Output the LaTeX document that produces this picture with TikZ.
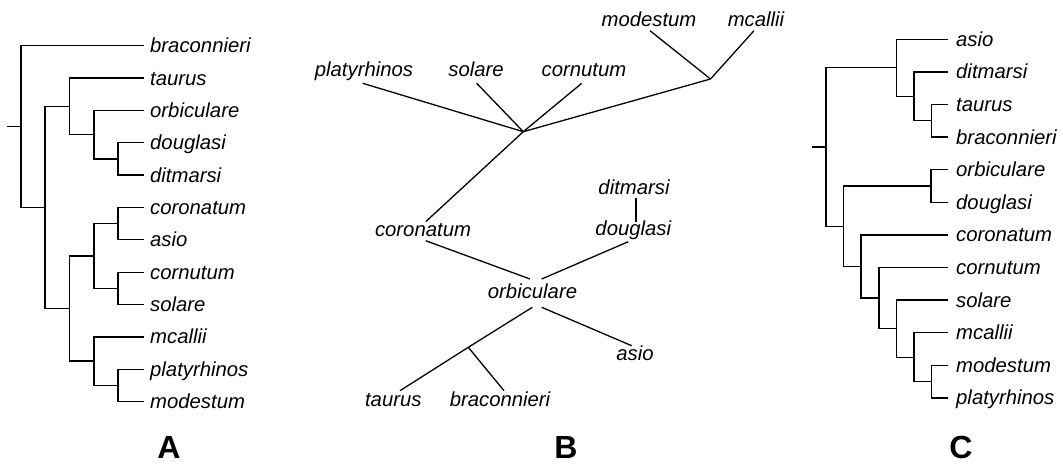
\documentclass[tikz,border=0pt]{standalone}
\usepackage{fontspec}
\setmainfont{Liberation Sans}
\begin{document}
\begin{tikzpicture}[x=1pt,y=-1pt,
  br/.style={line width=1.3pt,line cap=rect},
  tipA/.style={anchor=west,inner xsep=7pt,inner ysep=0pt,text height=14pt,text depth=0pt,font=\itshape\fontsize{20.3}{24}\selectfont},
  tipC/.style={tipA,inner xsep=9pt},
  lblB/.style={anchor=base,inner sep=0pt,font=\itshape\fontsize{20.3}{24}\selectfont},
  panel/.style={anchor=base,inner sep=0pt,font=\bfseries\fontsize{32}{36}\selectfont}]
\useasboundingbox (0,0) rectangle (1063,465);

% ---------------- Panel A ----------------
\node[tipA] (a-brac)  at (143,45.7)  {braconnieri};
\node[tipA] (a-taur)  at (143,78.05) {taurus};
\node[tipA] (a-orbi)  at (143,110.4) {orbiculare};
\node[tipA] (a-doug)  at (143,142.75){douglasi};
\node[tipA] (a-ditm)  at (143,175.1) {ditmarsi};
\node[tipA] (a-coro)  at (143,207.45){coronatum};
\node[tipA] (a-asio)  at (143,239.8) {asio};
\node[tipA] (a-corn)  at (143,272.15){cornutum};
\node[tipA] (a-sola)  at (143,304.5) {solare};
\node[tipA] (a-mcal)  at (143,336.85){mcallii};
\node[tipA] (a-plat)  at (143,369.2) {platyrhinos};
\node[tipA] (a-mode)  at (143,401.55){modestum};
\coordinate (aN5) at (118,158.9);
\coordinate (aN4) at (94,134.65);
\coordinate (aN2) at (69.5,106.35);
\coordinate (aN8) at (118,223.6);
\coordinate (aN9) at (118,288.3);
\coordinate (aN6) at (94,256);
\coordinate (aN10) at (118,385.4);
\coordinate (aN7) at (94,361.1);
\coordinate (aN3) at (69.5,308.6);
\coordinate (aN1) at (45,207.5);
\coordinate (aR) at (21,126.6);
\coordinate (aS) at (8,126.6);
\draw[br] (aS) -- (aR);
\draw[br] (aR) |- (a-brac.west);
\draw[br] (aR) |- (aN1);
\draw[br] (aN1) |- (aN2);
\draw[br] (aN1) |- (aN3);
\draw[br] (aN2) |- (a-taur.west);
\draw[br] (aN2) |- (aN4);
\draw[br] (aN4) |- (a-orbi.west);
\draw[br] (aN4) |- (aN5);
\draw[br] (aN5) |- (a-doug.west);
\draw[br] (aN5) |- (a-ditm.west);
\draw[br] (aN3) |- (aN6);
\draw[br] (aN3) |- (aN7);
\draw[br] (aN6) |- (aN8);
\draw[br] (aN6) |- (aN9);
\draw[br] (aN8) |- (a-coro.west);
\draw[br] (aN8) |- (a-asio.west);
\draw[br] (aN9) |- (a-corn.west);
\draw[br] (aN9) |- (a-sola.west);
\draw[br] (aN7) |- (a-mcal.west);
\draw[br] (aN7) |- (aN10);
\draw[br] (aN10) |- (a-plat.west);
\draw[br] (aN10) |- (a-mode.west);

% ---------------- Panel B ----------------
\node[lblB] (b-plat) at (364,77)   {platyrhinos};
\node[lblB] (b-sola) at (476,77)   {solare};
\node[lblB] (b-corn) at (584,77)   {cornutum};
\node[lblB] (b-mode) at (649,26.7) {modestum};
\node[lblB] (b-mcal) at (756,26.7) {mcallii};
\node[lblB] (b-ditm) at (634,194.5){ditmarsi};
\node[lblB] (b-doug) at (633.3,235.5){douglasi};
\node[lblB] (b-coro) at (423,236.7){coronatum};
\node[lblB] (b-orbi) at (532.5,298.3){orbiculare};
\node[lblB] (b-asio) at (635,360)  {asio};
\node[lblB] (b-taur) at (393.3,406){taurus};
\node[lblB] (b-brac) at (500,406)  {braconnieri};
\coordinate (bC) at (523.3,131.7);
\coordinate (bM) at (710.5,79);
\coordinate (bJ) at (468.3,347.3);
\coordinate (e-plat) at (362.7,83.3);
\coordinate (e-sola) at (476.7,83.3);
\coordinate (e-corn) at (581.7,83.3);
\coordinate (e-mode) at (650,30.7);
\coordinate (e-mcal) at (754,30.7);
\coordinate (e-corT) at (425.7,221.7);
\coordinate (e-corB) at (425.7,240.7);
\coordinate (e-orbL) at (530,279);
\coordinate (e-orbR) at (541.7,279);
\coordinate (e-dogB) at (628.3,241.7);
\coordinate (e-dogT) at (636,221.7);
\coordinate (e-ditB) at (636,198.3);
\coordinate (e-orbBL) at (532.3,307.3);
\coordinate (e-orbBR) at (541.7,307.3);
\coordinate (e-asio) at (631.7,345.7);
\coordinate (e-taur) at (400,390.7);
\coordinate (e-brac) at (504,390.7);
\draw[br,line cap=butt] (e-plat) -- (bC);
\draw[br,line cap=butt] (e-sola) -- (bC);
\draw[br,line cap=butt] (e-corn) -- (bC);
\draw[br,line cap=butt] (bC) -- (bM);
\draw[br,line cap=butt] (e-mode) -- (bM);
\draw[br,line cap=butt] (e-mcal) -- (bM);
\draw[br,line cap=butt] (bC) -- (e-corT);
\draw[br,line cap=butt] (e-corB) -- (e-orbL);
\draw[br,line cap=butt] (e-dogB) -- (e-orbR);
\draw[br,line cap=butt] (e-ditB) -- (e-dogT);
\draw[br,line cap=butt] (e-orbBL) -- (bJ);
\draw[br,line cap=butt] (bJ) -- (e-taur);
\draw[br,line cap=butt] (bJ) -- (e-brac);
\draw[br,line cap=butt] (e-orbBR) -- (e-asio);

% ---------------- Panel C ----------------
\node[tipC] (c-asio) at (947,39.3)  {asio};
\node[tipC] (c-ditm) at (947,71.9)  {ditmarsi};
\node[tipC] (c-taur) at (947,104.5) {taurus};
\node[tipC] (c-brac) at (947,137.1) {braconnieri};
\node[tipC] (c-orbi) at (947,169.7) {orbiculare};
\node[tipC] (c-doug) at (947,202.3) {douglasi};
\node[tipC] (c-coro) at (947,234.9) {coronatum};
\node[tipC] (c-corn) at (947,267.5) {cornutum};
\node[tipC] (c-sola) at (947,300.1) {solare};
\node[tipC] (c-mcal) at (947,332.7) {mcallii};
\node[tipC] (c-mode) at (947,365.3) {modestum};
\node[tipC] (c-plat) at (947,397.9) {platyrhinos};
\coordinate (cA3) at (931.5,120.8);
\coordinate (cA2) at (914,96.35);
\coordinate (cA)  at (896.5,67.8);
\coordinate (cB1) at (931,186);
\coordinate (cB6) at (931.5,381.6);
\coordinate (cB5) at (914,357.15);
\coordinate (cB4) at (896.5,328.6);
\coordinate (cB3) at (879,298.05);
\coordinate (cB2) at (861,266.5);
\coordinate (cB)  at (843.5,226.25);
\coordinate (cR)  at (826,147);
\coordinate (cS)  at (813,147);
\draw[br] (cS) -- (cR);
\draw[br] (cR) |- (cA);
\draw[br] (cR) |- (cB);
\draw[br] (cA) |- (c-asio.west);
\draw[br] (cA) |- (cA2);
\draw[br] (cA2) |- (c-ditm.west);
\draw[br] (cA2) |- (cA3);
\draw[br] (cA3) |- (c-taur.west);
\draw[br] (cA3) |- (c-brac.west);
\draw[br] (cB) |- (cB1);
\draw[br] (cB) |- (cB2);
\draw[br] (cB1) |- (c-orbi.west);
\draw[br] (cB1) |- (c-doug.west);
\draw[br] (cB2) |- (c-coro.west);
\draw[br] (cB2) |- (cB3);
\draw[br] (cB3) |- (c-corn.west);
\draw[br] (cB3) |- (cB4);
\draw[br] (cB4) |- (c-sola.west);
\draw[br] (cB4) |- (cB5);
\draw[br] (cB5) |- (c-mcal.west);
\draw[br] (cB5) |- (cB6);
\draw[br] (cB6) |- (c-mode.west);
\draw[br] (cB6) |- (c-plat.west);

% ---------------- Panel letters ----------------
\node[panel] (labA) at (169,458.5) {A};
\node[panel] (labB) at (566,458.5) {B};
\node[panel] (labC) at (961,458.5) {C};
\end{tikzpicture}
\end{document}
